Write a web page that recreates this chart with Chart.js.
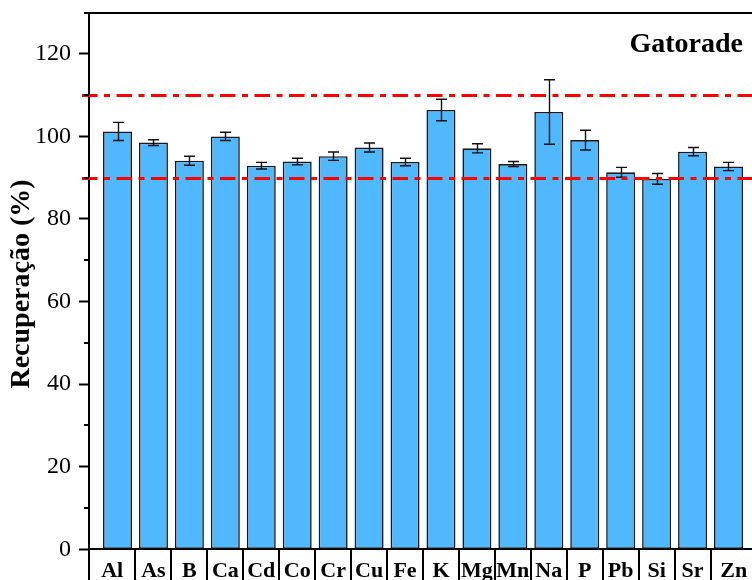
<!DOCTYPE html>
<html>
<head>
<meta charset="utf-8">
<script src="https://cdn.jsdelivr.net/npm/chart.js@4/dist/chart.umd.min.js"></script>
<style>
  html, body { margin: 0; padding: 0; overflow: hidden; background: #fff; }
  canvas { display: block; }
</style>
</head>
<body>
<canvas id="c" width="770" height="580"></canvas>
<script>
// Element recoveries for the spiked sample (mean and standard deviation, %)
const elements = ['Al','As','B','Ca','Cd','Co','Cr','Cu','Fe','K','Mg','Mn','Na','P','Pb','Si','Sr','Zn'];
const recovery = [101.2, 98.5, 94.1, 100.0, 92.9, 93.9, 95.2, 97.3, 93.8, 106.4, 97.1, 93.3, 105.9, 99.1, 91.3, 89.7, 96.3, 92.7];
const recoveryErr = [2.2, 0.7, 1.1, 1.0, 0.8, 0.8, 1.0, 1.1, 0.9, 2.6, 1.1, 0.6, 7.8, 2.4, 1.2, 1.3, 1.0, 1.0];
const yTicks = [0, 20, 40, 60, 80, 100, 120];
const yMinorTicks = [10, 30, 50, 70, 90, 110, 130];
const acceptLimits = [90, 110];
const sampleName = 'Gatorade';
const yTitle = 'Recuperação (%)';

const SERIF = "'Liberation Serif', 'Times New Roman', Times, serif";
const X_MIN = -0.793, X_MAX = elements.length - 1 + 0.793;

// Axis frame, minor ticks, label boxes, error bars, limit lines and titles
const decorations = {
  id: 'decorations',
  afterDatasetsDraw(chart) {
    const { ctx, chartArea: a, scales: { y } } = chart;
    const meta = chart.getDatasetMeta(0);
    ctx.save();
    // error bars
    ctx.strokeStyle = '#111';
    ctx.lineWidth = 1.4;
    meta.data.forEach((bar, i) => {
      const top = y.getPixelForValue(recovery[i] + recoveryErr[i]);
      const bot = y.getPixelForValue(recovery[i] - recoveryErr[i]);
      const cx = Math.round(bar.x) + 0.5;
      ctx.beginPath();
      ctx.moveTo(cx, top); ctx.lineTo(cx, bot);
      ctx.moveTo(cx - 5.5, top); ctx.lineTo(cx + 5.5, top);
      ctx.moveTo(cx - 5.5, bot); ctx.lineTo(cx + 5.5, bot);
      ctx.stroke();
    });
    // acceptance limits
    ctx.strokeStyle = '#ff0000';
    ctx.lineWidth = 3;
    ctx.setLineDash([15.5, 6.5, 6, 6.5]);
    acceptLimits.forEach(v => {
      const py = Math.round(y.getPixelForValue(v)) + 0.5;
      ctx.beginPath();
      ctx.moveTo(a.left - 7, py);
      ctx.lineTo(chart.width, py);
      ctx.stroke();
    });
    ctx.restore();
  },
  afterDraw(chart) {
    const { ctx, chartArea: a, scales: { x, y } } = chart;
    ctx.save();
    ctx.strokeStyle = '#000';
    // top frame line
    ctx.lineWidth = 2;
    ctx.beginPath();
    ctx.moveTo(a.left - 5, Math.round(a.top));
    ctx.lineTo(chart.width, Math.round(a.top));
    ctx.stroke();
    // minor ticks on the value axis
    yMinorTicks.forEach(v => {
      const py = Math.round(y.getPixelForValue(v));
      ctx.beginPath();
      ctx.moveTo(a.left - 5, py);
      ctx.lineTo(a.left, py);
      ctx.stroke();
    });
    // label boxes under the bars
    const left = Math.round(a.left);
    ctx.beginPath();
    ctx.moveTo(left, a.bottom);
    ctx.lineTo(left, chart.height);
    for (let k = 1; k < elements.length; k++) {
      const px = Math.round(x.getPixelForValue(k - 0.5));
      ctx.moveTo(px, a.bottom);
      ctx.lineTo(px, chart.height);
    }
    ctx.stroke();
    // sample name
    ctx.fillStyle = '#000';
    ctx.font = 'bold 28px ' + SERIF;
    ctx.textAlign = 'right';
    ctx.textBaseline = 'alphabetic';
    ctx.fillText(sampleName, 743, 52);
    // value axis title
    ctx.translate(22, 284);
    ctx.rotate(-Math.PI / 2);
    ctx.textAlign = 'center';
    ctx.textBaseline = 'middle';
    ctx.fillText(yTitle, 0, 0);
    ctx.restore();
  }
};

new Chart(document.getElementById('c'), {
  type: 'bar',
  data: {
    datasets: [{
      data: recovery.map((v, i) => ({ x: i, y: v })),
      backgroundColor: '#4fb8fe',
      borderColor: '#1a1a1a',
      borderWidth: 1.6,
      borderSkipped: false,
      categoryPercentage: 1,
      barPercentage: 0.807
    }]
  },
  options: {
    responsive: false,
    animation: false,
    events: [],
    layout: { padding: { left: 0, right: 13, top: 12.5, bottom: 0 } },
    plugins: { legend: { display: false }, tooltip: { enabled: false } },
    scales: {
      x: {
        type: 'linear',
        offset: false,
        min: X_MIN,
        max: X_MAX,
        afterFit(s) {
          s.height = 30.7;
          s.paddingLeft = 0; s.paddingRight = 0;
        },
        // each label sits in the middle of its box; the outer boxes run to the axis ends
        afterBuildTicks(s) {
          const last = elements.length - 1;
          s.ticks = elements.map((_, i) => {
            const lo = i === 0 ? s.min : i - 0.5;
            const hi = i === last ? s.max : i + 0.5;
            return { value: (lo + hi) / 2 };
          });
        },
        grid: { display: false, drawTicks: false, offset: false },
        border: { display: true, color: '#000', width: 2 },
        ticks: {
          autoSkip: false,
          maxRotation: 0,
          minRotation: 0,
          padding: 9,
          color: '#000',
          font: { family: SERIF, size: 22, weight: 'bold' },
          callback: (v, i) => elements[i]
        }
      },
      y: {
        min: 0,
        max: 130,
        afterFit(s) {
          s.width = 89;
          s.paddingTop = 0; s.paddingBottom = 0;
        },
        afterBuildTicks(s) { s.ticks = yTicks.map(v => ({ value: v })); },
        grid: {
          display: true,
          drawOnChartArea: false,
          drawTicks: true,
          tickLength: 10,
          tickWidth: 2,
          tickColor: '#000',
          color: '#000'
        },
        border: { display: true, color: '#000', width: 2 },
        ticks: {
          padding: 8,
          color: '#000',
          font: { family: SERIF, size: 24 }
        }
      }
    }
  },
  plugins: [decorations]
});
</script>
</body>
</html>
